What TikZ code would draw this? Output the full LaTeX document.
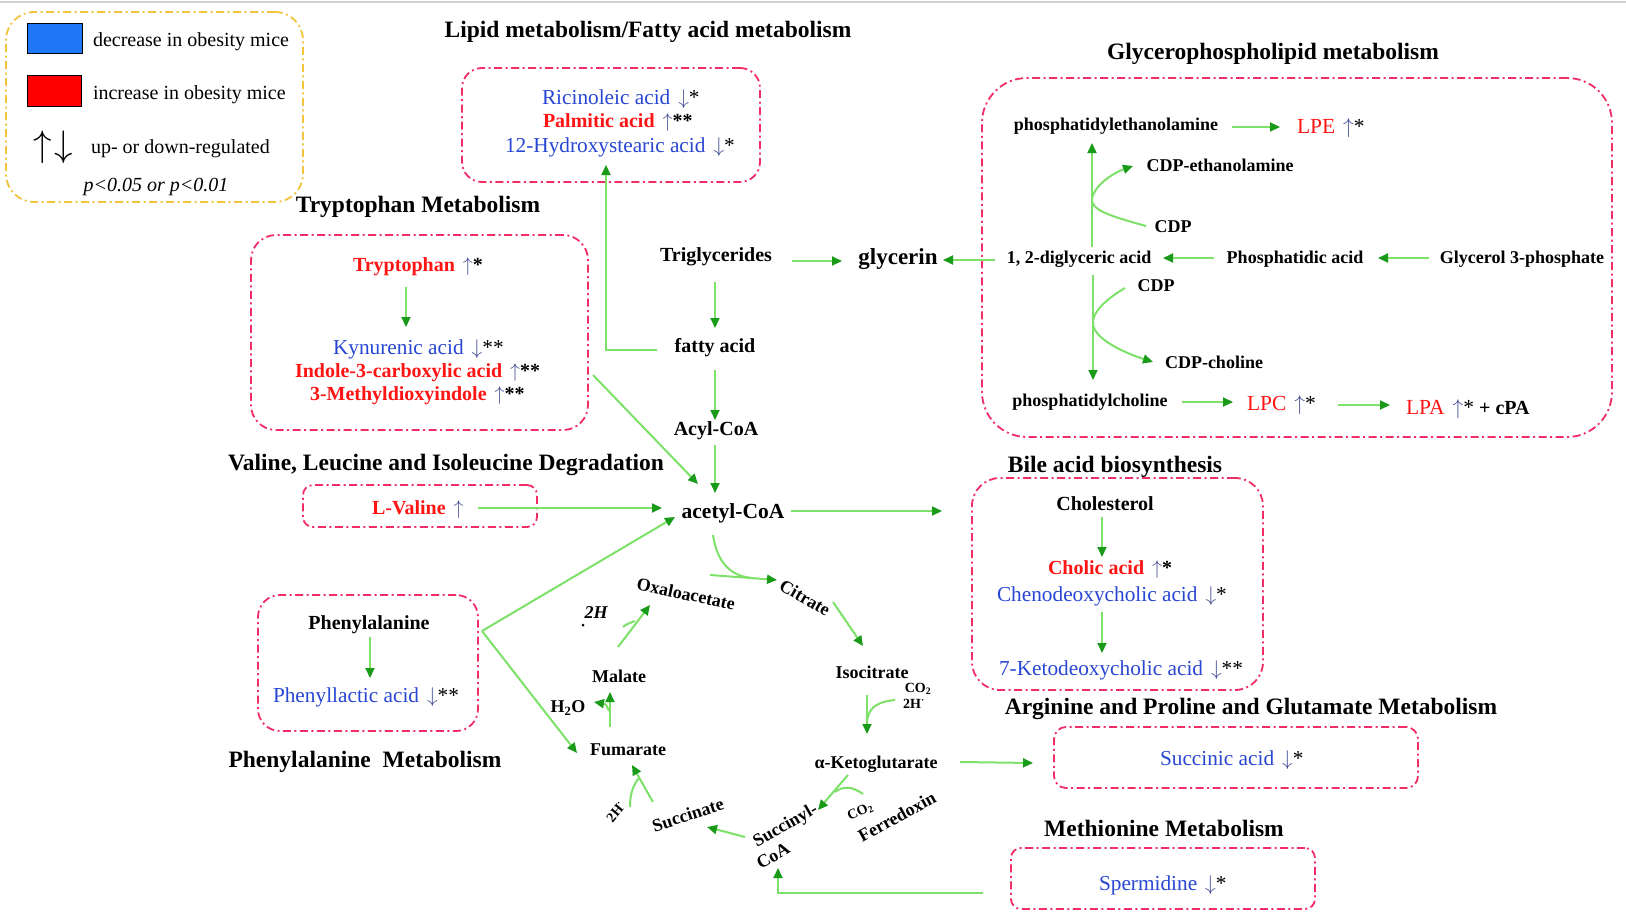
\RequirePackage{fix-cm}
\documentclass[tikz,border=0pt]{standalone}
\usepackage{fontspec}
\setmainfont{Liberation Serif}
\usetikzlibrary{arrows.meta}
\definecolor{boxc}{RGB}{240,45,100}
\definecolor{goldc}{RGB}{242,196,60}
\definecolor{lineg}{RGB}{125,225,105}
\definecolor{headg}{RGB}{25,155,25}
\definecolor{bluc}{RGB}{40,70,210}
\definecolor{redc}{RGB}{255,20,20}
\definecolor{arrc}{RGB}{70,80,150}
\definecolor{legb}{RGB}{30,120,245}
\definecolor{legr}{RGB}{255,0,0}
\definecolor{topg}{RGB}{205,210,210}
\newcommand\myu[1]{\hspace{8pt}{\color{arrc}$\uparrow$}{\color{black}#1}}
\newcommand\myd[1]{\hspace{8pt}{\color{arrc}$\downarrow$}{\color{black}#1}}
\begin{document}
\begin{tikzpicture}[x=1pt,y=-1pt,
 every node/.style={inner sep=0pt,outer sep=0pt},
 ttl/.style={font=\fontsize{23.5}{26}\selectfont\bfseries,text height=15.5pt,text depth=0pt},
 lb/.style={font=\fontsize{20}{22}\selectfont\bfseries,text height=13.2pt,text depth=0pt},
 sm/.style={font=\fontsize{18}{20}\selectfont\bfseries,text height=11.9pt,text depth=0pt},
 bl/.style={text=bluc,font=\fontsize{21.3}{23}\selectfont,text height=14pt,text depth=0pt,anchor=west},
 rb/.style={text=redc,font=\fontsize{20}{22}\selectfont\bfseries,text height=13.2pt,text depth=0pt,anchor=west},
 rr/.style={text=redc,font=\fontsize{21.5}{23}\selectfont,text height=14.2pt,text depth=0pt,anchor=west},
 tn/.style={font=\fontsize{14}{15}\selectfont\bfseries,text height=9.2pt,text depth=0pt},
 grp/.style={draw=boxc,line width=1.8pt,dash pattern=on 8pt off 3.5pt on 2pt off 3.5pt,rectangle},
 arr/.style={draw=lineg,line width=2pt,-{Triangle[length=10pt,width=9pt,color=headg]}},
 ln/.style={draw=lineg,line width=2pt},
 leg/.style={font=\fontsize{20}{22}\selectfont,text height=13.2pt,text depth=0pt,anchor=west},
]
\useasboundingbox (0,0) rectangle (1626,913);
\fill[white] (0,0) rectangle (1626,913);
\draw[topg,line width=2pt] (0,2) -- (1626,2);

% legend
\node[draw=goldc,line width=1.8pt,dash pattern=on 8pt off 3.5pt on 2pt off 3.5pt,rounded corners=28pt,minimum width=297pt,minimum height=190pt] (bxleg) at (154.5,107) {};
\node[draw=black,line width=1pt,fill=legb,minimum width=55pt,minimum height=30pt] (sqb) at (54.5,38) {};
\node[draw=black,line width=1pt,fill=legr,minimum width=54pt,minimum height=31pt] (sqr) at (54,90.5) {};
\node[leg] (ldec) at (93,40) {decrease in obesity mice};
\node[leg] (linc) at (93,93) {increase in obesity mice};
\node[font=\fontsize{37}{40}\selectfont] (larr) at (53,147) {$\uparrow\mkern1mu\downarrow$};
\node[leg] (lreg) at (91,147) {up- or down-regulated};
\node[font=\fontsize{20}{22}\selectfont\itshape,text height=13.2pt,text depth=0pt] (lp) at (156,185) {p<0.05 or p<0.01};

% titles
\node[ttl] (tlip) at (648,30) {Lipid metabolism/Fatty acid metabolism};
\node[ttl] (ttrp) at (418,205) {Tryptophan Metabolism};
\node[ttl] (tglp) at (1273,52) {Glycerophospholipid metabolism};
\node[ttl] (tval) at (446,463) {Valine, Leucine and Isoleucine Degradation};
\node[ttl] (tphe) at (365,760) {Phenylalanine\ \ Metabolism};
\node[ttl] (tbile) at (1115,465) {Bile acid biosynthesis};
\node[ttl] (targ) at (1251,707) {Arginine and Proline and Glutamate Metabolism};
\node[ttl] (tmet) at (1164,829) {Methionine Metabolism};

% group boxes
\node[grp,rounded corners=20pt,minimum width=298pt,minimum height=114pt] (bxlip) at (611,125) {};
\node[grp,rounded corners=25pt,minimum width=337pt,minimum height=195pt] (bxtrp) at (419.5,332.5) {};
\node[grp,rounded corners=10pt,minimum width=234pt,minimum height=42pt] (bxval) at (420,506) {};
\node[grp,rounded corners=22pt,minimum width=220pt,minimum height=136pt] (bxphe) at (368,663) {};
\node[grp,rounded corners=45pt,minimum width=630pt,minimum height=359pt] (bxglp) at (1297,257.5) {};
\node[grp,rounded corners=28pt,minimum width=291pt,minimum height=212pt] (bxbile) at (1117.5,584) {};
\node[grp,rounded corners=12pt,minimum width=364pt,minimum height=61pt] (bxsuc) at (1236,757.5) {};
\node[grp,rounded corners=10pt,minimum width=304pt,minimum height=61pt] (bxspd) at (1163,878.5) {};

% lipid
\node[bl] (ric) at (542,97) {Ricinoleic acid\myd{*}};
\node[rb] (pal) at (543,121) {Palmitic acid\myu{**}};
\node[bl] (hyd) at (505,145) {12-Hydroxystearic acid\myd{*}};

% tryptophan
\node[rb] (trp) at (353,265) {Tryptophan\myu{*}};
\node[bl] (kyn) at (333,347) {Kynurenic acid\myd{**}};
\node[rb] (ind) at (295,371) {Indole-3-carboxylic acid\myu{**}};
\node[rb] (mdi) at (310,394) {3-Methyldioxyindole\myu{**}};

% centre column
\node[lb] (trig) at (716,255) {Triglycerides};
\node[ttl,font=\fontsize{23}{25}\selectfont\bfseries] (glyc) at (898,257) {glycerin};
\node[lb] (fatty) at (715,346) {fatty acid};
\node[lb] (acyl) at (716,429) {Acyl-CoA};
\node[lb,font=\fontsize{21.5}{23}\selectfont\bfseries] (acet) at (733,512) {acetyl-CoA};

% valine, phenylalanine
\node[rb] (val) at (372,508) {L-Valine\myu{}};
\node[lb] (phe) at (369,623) {Phenylalanine};
\node[bl] (phl) at (273,695) {Phenyllactic acid\myd{**}};

% TCA cycle
\node[sm,rotate=-12] (oxa) at (686,594) {Oxaloacetate};
\node[sm,rotate=-30] (cit) at (805,598) {Citrate};
\node[sm] (iso) at (872,673) {Isocitrate};
\node[tn] (co2a) at (918,688) {CO\textsubscript{2}};
\node[tn] (h2a) at (914,704) {2H\textsuperscript{·}};
\node[sm] (akg) at (876,763) {α-Ketoglutarate};
\node[sm,rotate=30] (suc1) at (785,825) {Succinyl-};
\node[sm,rotate=30] (suc2) at (773,856) {CoA};
\node[tn,rotate=25] (co2b) at (860,811) {CO\textsubscript{2}};
\node[sm,rotate=29] (ferr) at (897,817) {Ferredoxin};
\node[sm,rotate=18] (succ) at (688,815) {Succinate};
\node[tn,rotate=50] (h2b) at (616,812) {2H\textsuperscript{·}};
\node[sm] (fum) at (628,750) {Fumarate};
\node[sm] (mal) at (619,677) {Malate};
\node[sm] (h2o) at (568,707) {H\textsubscript{2}O};
\node[sm,font=\fontsize{18}{20}\selectfont\bfseries\itshape] (twoh) at (596,613) {2H};
\fill (583,625) circle (1.5pt);

% glycerophospholipid
\node[sm] (pe) at (1116,125) {phosphatidylethanolamine};
\node[rr] (lpe) at (1297,126) {LPE\myu{*}};
\node[sm] (cdpe) at (1220,166) {CDP-ethanolamine};
\node[sm] (cdp1) at (1173,227) {CDP};
\node[sm] (dig) at (1079,258) {1, 2-diglyceric acid};
\node[sm] (pa) at (1295,258) {Phosphatidic acid};
\node[sm] (g3p) at (1522,258) {Glycerol 3-phosphate};
\node[sm] (cdp2) at (1156,286) {CDP};
\node[sm] (cdpc) at (1214,363) {CDP-choline};
\node[sm] (pc) at (1090,401) {phosphatidylcholine};
\node[rr] (lpc) at (1247,403) {LPC\myu{*}};
\node[rr] (lpa) at (1406,407) {LPA\myu{*}{\color{black}\fontsize{20}{22}\selectfont\bfseries\ + cPA}};

% bile etc
\node[lb] (chol) at (1105,504) {Cholesterol};
\node[rb] (cholic) at (1048,568) {Cholic acid\myu{*}};
\node[bl] (cheno) at (997,594) {Chenodeoxycholic acid\myd{*}};
\node[bl] (keto) at (999,668) {7-Ketodeoxycholic acid\myd{**}};
\node[bl] (succa) at (1160,758) {Succinic acid\myd{*}};
\node[bl] (sperm) at (1099,883) {Spermidine\myd{*}};

% connectors: lipid
\draw[arr] ([shift={(76,6)}]trig.center) -- ([shift={(-56,4)}]glyc.center);
\draw[arr] ([shift={(-84,2)}]dig.center) -- ([shift={(45,3)}]glyc.center);
\draw[arr] ([shift={(-1,27)}]trig.center) -- ([shift={(0,-18)}]fatty.center);
\draw[arr] ([shift={(0,24)}]fatty.center) -- ([shift={(-1,-9)}]acyl.center);
\draw[arr] ([shift={(-1,16)}]acyl.center) -- ([shift={(-18,-19)}]acet.center);
\draw[arr] ([shift={(-58,4)}]fatty.center) -| ([shift={(101,20)}]hyd.west);
% tryptophan
\draw[arr] ([shift={(53,22)}]trp.west) -- ([shift={(73,-20)}]kyn.west);
\draw[arr] ([shift={(5,42.5)}]bxtrp.east) -- ([shift={(-35,-28)}]acet.center);
% valine / phenylalanine
\draw[arr] ([shift={(106,0)}]val.west) -- ([shift={(-71,-4)}]acet.center);
\draw[arr] ([shift={(4,-32)}]bxphe.east) -- ([shift={(-58,5)}]acet.center);
\draw[arr] ([shift={(4,-32)}]bxphe.east) -- ([shift={(-51,3)}]fum.center);
\draw[arr] ([shift={(1,14)}]phe.center) -- ([shift={(97,-17)}]phl.west);
\draw[arr] ([shift={(58,-1)}]acet.center) -- ([shift={(-30,-73)}]bxbile.west);
% TCA
\draw[ln] ([shift={(-20,23)}]acet.center) .. controls (717,562) and (730,576) .. (752,578);
\draw[arr] ([shift={(24,-19)}]oxa.center) -- ([shift={(-28,-18)}]cit.center);
\draw[arr] ([shift={(28,4)}]cit.center) -- ([shift={(-9,-27)}]iso.center);
\draw[arr] ([shift={(-5,22)}]iso.center) -- ([shift={(-9,-29)}]akg.center);
\draw[ln] ([shift={(-23,12)}]co2a.center) .. controls (874,702) and (868,710) .. (867,722);
\draw[arr] ([shift={(-28,12)}]akg.center) .. controls (835,790) .. ([shift={(33,-15)}]suc1.center);
\draw[ln] ([shift={(3,-17)}]co2b.center) .. controls (852,786) and (843,786) .. (835,792);
\draw[arr] ([shift={(-40,12)}]suc1.center) -- ([shift={(19,12)}]succ.center);
\draw[arr] ([shift={(-35,-13)}]succ.center) -- ([shift={(4,15)}]fum.center);
\draw[ln] ([shift={(14,-5)}]h2b.center) .. controls (630,792) and (634,784) .. (639,778);
\draw[arr] ([shift={(-18,-23)}]fum.center) -- ([shift={(-9,15)}]mal.center);
\draw[arr] ([shift={(-19,-39)}]fum.center) .. controls (606,704) .. ([shift={(26,-5)}]h2o.center);
\draw[arr] ([shift={(-1,-30)}]mal.center) -- ([shift={(-36,11)}]oxa.center);
\draw[ln] ([shift={(27,14)}]twoh.center) .. controls (627,624) .. (635,621);
\draw[arr] ([shift={(84,-1)}]akg.center) -- ([shift={(-21,5.5)}]bxsuc.west);
\draw[arr] ([shift={(-28,14.5)}]bxspd.west) -| ([shift={(5,12)}]suc2.center);
% glycerophospholipid
\draw[arr] ([shift={(116,2)}]pe.center) -- ([shift={(-17,1)}]lpe.west);
\draw[arr] ([shift={(13,-11)}]dig.center) -- ([shift={(-24,18)}]pe.center);
\draw[arr] ([shift={(-27,-1)}]cdp1.center) .. controls (1110,216) and (1090,210) .. (1092,198) .. controls (1095,185) and (1113,173) .. ([shift={(-87,0)}]cdpe.center);
\draw[arr] ([shift={(-81,0)}]pa.center) -- ([shift={(84,0)}]dig.center);
\draw[arr] ([shift={(-93,0)}]g3p.center) -- ([shift={(83,0)}]pa.center);
\draw[arr] ([shift={(14,17)}]dig.center) -- ([shift={(3,-21)}]pc.center);
\draw[arr] ([shift={(-31,2)}]cdp2.center) .. controls (1108,298) and (1091,312) .. (1093,325) .. controls (1096,340) and (1125,353) .. ([shift={(-61,-1)}]cdpc.center);
\draw[arr] ([shift={(92,1)}]pc.center) -- ([shift={(-14,-1)}]lpc.west);
\draw[arr] ([shift={(91,2)}]lpc.west) -- ([shift={(-16,-2)}]lpa.west);
% bile
\draw[arr] ([shift={(-3,13)}]chol.center) -- ([shift={(54,-11)}]cholic.west);
\draw[arr] ([shift={(105,18)}]cheno.west) -- ([shift={(103,-15)}]keto.west);
\end{tikzpicture}
\end{document}
